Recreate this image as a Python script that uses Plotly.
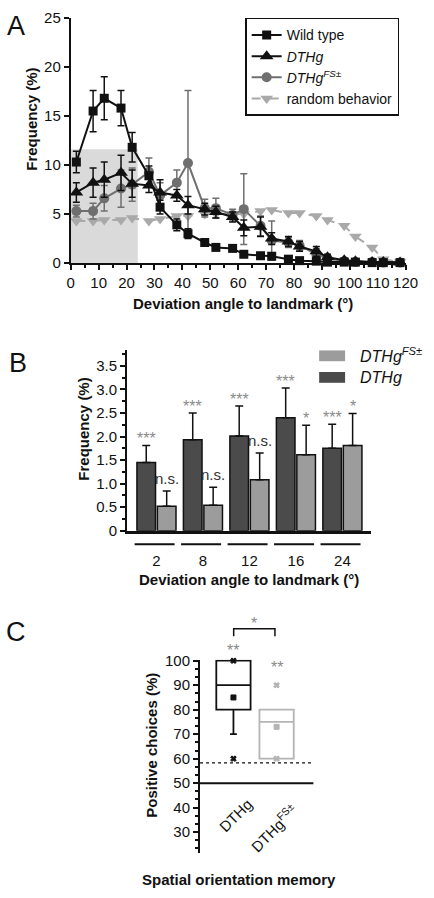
import plotly.graph_objects as go

W, H = 434, 898
FONT = "Liberation Sans, Arial, sans-serif"


def px(x):
    return x / W


def py(y):
    return 1 - y / H


# ---------------- Panel A data ----------------
angles = [2, 8, 12, 18, 22, 28, 32, 38, 42, 48, 52, 58, 62, 68, 72, 78, 82, 88, 92, 98, 102, 108, 112, 118]
wt = [10.3, 15.5, 16.8, 15.8, 11.8, 8.9, 5.7, 3.9, 3.0, 2.1, 1.6, 1.5, 0.9, 0.75, 0.7, 0.4, 0.25, 0.2, 0.1, 0.1, 0.1, 0.05, 0.05, 0.05]
wt_err = [1.1, 2.1, 2.2, 1.8, 1.5, 1.0, 0.7, 0.6, 0.5, 0.3, 0.3, 0.25, 0.2, 0.2, 0.15, 0.15, 0.1, 0.1, 0.1, 0.05, 0.05, 0.05, 0.05, 0.05]
dthg = [7.2, 8.2, 8.5, 9.2, 8.1, 7.9, 7.2, 6.9, 5.9, 5.5, 5.2, 4.7, 3.6, 3.7, 2.5, 2.2, 1.7, 1.2, 0.6, 0.3, 0.2, 0.1, 0.1, 0.05]
dthg_err = [1.0, 1.5, 1.8, 1.8, 1.4, 0.7, 1.3, 0.6, 0.9, 0.6, 0.6, 0.5, 0.8, 1.0, 0.6, 0.5, 0.5, 0.5, 0.3, 0.2, 0.1, 0.1, 0.1, 0.05]
fs = [5.3, 5.3, 6.6, 7.6, 8.0, 9.3, 6.9, 8.2, 10.2, 5.6, 5.6, 4.9, 5.5, 3.8, 2.3, 2.1, 1.8, 0.9, 0.5, 0.2, 0.1, 0.1, 0.05, 0.05]
fs_err = [0.6, 0.8, 1.3, 1.9, 1.7, 1.4, 1.3, 1.3, 7.4, 0.9, 1.0, 0.6, 3.6, 1.0, 2.0, 0.5, 0.5, 0.6, 0.3, 0.2, 0.1, 0.1, 0.05, 0.05]
rnd = [4.3, 4.3, 4.4, 4.4, 4.6, 4.3, 4.5, 4.8, 4.8, 5.0, 5.0, 5.0, 5.0, 5.3, 5.4, 5.1, 5.1, 4.8, 4.4, 3.8, 2.7, 1.6, 0.4, 0.1]
highlight_x = [0, 24]
highlight_top = 11.6
a_xticks = list(range(0, 121, 10))
a_yticks = [0, 5, 10, 15, 20, 25]

# ---------------- Panel B data ----------------
b_groups = ["2", "8", "12", "16", "24"]
b_dthg = [1.45, 1.93, 2.01, 2.40, 1.75]
b_dthg_err = [0.36, 0.57, 0.64, 0.63, 0.51]
b_fs = [0.52, 0.54, 1.08, 1.61, 1.81]
b_fs_err = [0.32, 0.38, 0.57, 0.63, 0.68]
b_sig_dthg = ["***", "***", "***", "***", "***"]
b_sig_fs = ["n.s.", "n.s.", "n.s.", "*", "*"]
b_yticks = [0, 0.5, 1.0, 1.5, 2.0, 2.5, 3.0, 3.5]
b_yticktext = ["0", "0.5", "1.0", "1.5", "2.0", "2.5", "3.0", "3.5"]

# ---------------- Panel C data ----------------
c_groups = ["DTHg", "DTHg<sup>FS±</sup>"]
c_q1 = [80, 60]
c_median = [90, 75]
c_q3 = [100, 80]
c_low = [70, 60]
c_high = [100, 80]
c_points = [[100, 85, 60], [90, 73, 60]]
c_point_symbols = ["x", "square", "x"]
c_sig = ["**", "**"]
c_chance = 58.3
c_baseline = 50
c_yticks = [30, 40, 50, 60, 70, 80, 90, 100]

BLACK = "#111111"
DARKGRAY = "#6f6f6f"
LIGHTGRAY = "#a9a9a9"
B_DARK = "#4b4b4b"
B_LIGHT = "#9c9c9c"
C_LIGHT = "#b4b4b4"
STAR = "#8a8a8a"
FS = 15
STAR_SIZE = 16

fig = go.Figure()

# ---- Panel A traces ----
fig.add_trace(go.Scatter(
    x=angles, y=rnd, mode="lines+markers", name="random behavior",
    line=dict(color=LIGHTGRAY, width=2, dash="dash"),
    marker=dict(symbol="triangle-down", size=11, color=LIGHTGRAY),
    legendrank=4, cliponaxis=False, xaxis="x", yaxis="y"))
fig.add_trace(go.Scatter(
    x=angles, y=fs, mode="lines+markers", name="<i>DTHg<sup>FS±</sup></i>",
    line=dict(color=DARKGRAY, width=2),
    marker=dict(symbol="circle", size=10, color=DARKGRAY),
    error_y=dict(type="data", array=fs_err, color=DARKGRAY, thickness=1.5, width=3.5),
    legendrank=3, cliponaxis=False, xaxis="x", yaxis="y"))
fig.add_trace(go.Scatter(
    x=angles, y=dthg, mode="lines+markers", name="<i>DTHg</i>",
    line=dict(color=BLACK, width=2),
    marker=dict(symbol="triangle-up", size=12, color=BLACK),
    error_y=dict(type="data", array=dthg_err, color=BLACK, thickness=1.5, width=3.5),
    legendrank=2, cliponaxis=False, xaxis="x", yaxis="y"))
fig.add_trace(go.Scatter(
    x=angles, y=wt, mode="lines+markers", name="Wild type",
    line=dict(color=BLACK, width=2),
    marker=dict(symbol="square", size=9, color=BLACK),
    error_y=dict(type="data", array=wt_err, color=BLACK, thickness=1.5, width=3.5),
    legendrank=1, cliponaxis=False, xaxis="x", yaxis="y"))

# ---- Panel B traces ----
bx = list(range(len(b_groups)))
fig.add_trace(go.Bar(
    x=bx, y=b_dthg, name="DTHg", marker=dict(color=B_DARK, line=dict(color=BLACK, width=1.5)),
    error_y=dict(type="data", array=b_dthg_err, arrayminus=[0] * 5, symmetric=False,
                 color=BLACK, thickness=1.5, width=4),
    showlegend=False, xaxis="x2", yaxis="y2"))
fig.add_trace(go.Bar(
    x=bx, y=b_fs, name="DTHg FS", marker=dict(color=B_LIGHT, line=dict(color=BLACK, width=1.5)),
    error_y=dict(type="data", array=b_fs_err, arrayminus=[0] * 5, symmetric=False,
                 color=BLACK, thickness=1.5, width=4),
    showlegend=False, xaxis="x2", yaxis="y2"))

# ---- Panel C traces ----
c_colors = [BLACK, C_LIGHT]
for i in range(2):
    fig.add_trace(go.Box(
        x=[i], q1=[c_q1[i]], median=[c_median[i]], q3=[c_q3[i]],
        lowerfence=[c_low[i]], upperfence=[c_high[i]],
        width=0.795, whiskerwidth=0.2, boxpoints=False,
        line=dict(color=c_colors[i], width=1.8), fillcolor="rgba(0,0,0,0)",
        showlegend=False, xaxis="x3", yaxis="y3"))
    fig.add_trace(go.Scatter(
        x=[i] * len(c_points[i]), y=c_points[i], mode="markers",
        marker=dict(symbol=c_point_symbols, size=5, color=c_colors[i],
                    line=dict(color=c_colors[i], width=1)),
        showlegend=False, cliponaxis=False, xaxis="x3", yaxis="y3"))

axis_common = dict(showline=True, linecolor=BLACK, linewidth=2, ticks="outside",
                   tickcolor=BLACK, tickwidth=1.5, ticklen=5, showgrid=False, zeroline=False,
                   tickfont=dict(family=FONT, size=FS, color=BLACK))

shapes = [
    dict(type="rect", xref="x", yref="y", x0=highlight_x[0], x1=highlight_x[1], y0=0,
         y1=highlight_top, fillcolor="#dadada", line=dict(width=0), layer="below"),
    # panel C reference lines
    dict(type="line", xref="x3 domain", yref="y3", x0=0, x1=1, y0=c_baseline, y1=c_baseline,
         line=dict(color=BLACK, width=2)),
    dict(type="line", xref="x3 domain", yref="y3", x0=0, x1=0.985, y0=c_chance, y1=c_chance,
         line=dict(color=BLACK, width=1.3, dash="dot")),
    # significance bracket
    dict(type="path", xref="x3 domain", yref="y3 domain",
         path="M 0.297 1.122 L 0.297 1.161 L 0.661 1.161 L 0.661 1.122",
         line=dict(color=BLACK, width=1.5)),
    # panel B legend swatches
    dict(type="rect", xref="paper", yref="paper", x0=px(328), x1=px(355), y0=py(359), y1=py(348),
         fillcolor=B_LIGHT, line=dict(width=0)),
    dict(type="rect", xref="paper", yref="paper", x0=px(328), x1=px(355), y0=py(381), y1=py(370),
         fillcolor=B_DARK, line=dict(width=0)),
]
# panel B group underlines
for i in bx:
    shapes.append(dict(type="line", xref="x2", yref="paper", x0=i - 0.47, x1=i + 0.39,
                       y0=py(545.7), y1=py(545.7), line=dict(color=BLACK, width=2)))

ann = []


def text(x, y, t, size=FS, bold=False, angle=0, color=BLACK, italic=False, xanchor="center", **kw):
    s = t
    if bold:
        s = "<b>" + s + "</b>"
    if italic:
        s = "<i>" + s + "</i>"
    d = dict(x=x, y=y, text=s, showarrow=False, textangle=angle, xanchor=xanchor, yanchor="middle",
             font=dict(family=FONT, size=size, color=color))
    d.setdefault("xref", "paper")
    d.setdefault("yref", "paper")
    d.update(kw)
    ann.append(d)


# panel letters
text(px(13), py(17), "A", size=27)
text(px(15), py(361), "B", size=27)
text(px(13), py(635), "C", size=27)

# axis titles
text(px(29), py(112), "Frequency (%)", bold=True, angle=-90)
text(px(249), py(300), "Deviation angle to landmark (°)", bold=True)
text(px(83), py(428), "Frequency (%)", bold=True, angle=-90)
text(px(255), py(581), "Deviation angle to landmark (°)", bold=True)
text(px(154), py(750), "Positive choices (%)", bold=True, angle=-90)
text(px(245), py(887), "Spatial orientation memory", bold=True)

# panel B legend text
text(px(368), py(353), "DTHg<sup>FS±</sup>", size=16, italic=True, xanchor="left")
text(px(368), py(376), "DTHg", size=16, italic=True, xanchor="left")

# panel B significance
for i in bx:
    for off, vals, errs, sig in ((-0.22, b_dthg, b_dthg_err, b_sig_dthg),
                                 (0.22, b_fs, b_fs_err, b_sig_fs)):
        ns = sig[i] == "n.s."
        ann.append(dict(x=i + off, y=vals[i] + errs[i], xref="x2", yref="y2", text=sig[i],
                        showarrow=False, xanchor="center", yanchor="bottom",
                        yshift=2 if ns else -4,
                        font=dict(family=FONT, size=FS if ns else STAR_SIZE,
                                  color="#333333" if ns else STAR)))

# panel C significance
ann.append(dict(x=0, y=c_q3[0], xref="x3", yref="y3", text=c_sig[0], showarrow=False,
                yanchor="bottom", yshift=0, font=dict(family=FONT, size=STAR_SIZE, color=STAR)))
ann.append(dict(x=1, y=max(c_points[1]), xref="x3", yref="y3", text=c_sig[1], showarrow=False,
                yanchor="bottom", yshift=7, font=dict(family=FONT, size=STAR_SIZE, color=STAR)))
ann.append(dict(x=0.479, y=1.161, xref="x3 domain", yref="y3 domain", text="*", showarrow=False,
                yanchor="bottom", yshift=-5, font=dict(family=FONT, size=STAR_SIZE, color=STAR)))
# panel C category labels (rotated)
ann.append(dict(x=0, y=py(822), xref="x3", yref="paper", text=c_groups[0], showarrow=False,
                textangle=-45, xanchor="center", yanchor="middle", xshift=2,
                font=dict(family=FONT, size=FS, color=BLACK)))
ann.append(dict(x=1, y=py(834), xref="x3", yref="paper", text=c_groups[1], showarrow=False,
                textangle=-45, xanchor="center", yanchor="middle", xshift=-3,
                font=dict(family=FONT, size=FS, color=BLACK)))

fig.update_layout(
    width=W, height=H, margin=dict(l=0, r=0, t=0, b=0),
    paper_bgcolor="white", plot_bgcolor="rgba(0,0,0,0)",
    font=dict(family=FONT, size=FS, color=BLACK),
    barmode="group", bargap=0.12, bargroupgap=0.09,
    showlegend=True,
    legend=dict(x=px(251), y=py(9), xanchor="left", yanchor="top",
                bordercolor=BLACK, borderwidth=1.5, bgcolor="white",
                font=dict(family=FONT, size=14, color=BLACK),
                tracegroupgap=0, itemwidth=30),
    xaxis=dict(domain=[px(69.5), px(418)], range=[0, 120], anchor="y",
               tickvals=a_xticks, minor=dict(dtick=5, ticklen=3, tickwidth=1.5, ticks="outside",
                                             tickcolor=BLACK),
               **axis_common),
    yaxis=dict(domain=[py(259), py(9)], range=[0, 25], anchor="x", tickvals=a_yticks,
               **axis_common),
    xaxis2=dict(domain=[px(128), px(382)], range=[-0.634, 4.616], anchor="y2",
                showline=True, linecolor=BLACK, linewidth=2.5, ticks="", showgrid=False,
                zeroline=False, tickvals=bx, ticktext=b_groups, ticklabelstandoff=15,
                tickfont=dict(family=FONT, size=FS, color=BLACK)),
    yaxis2=dict(domain=[py(531.7), py(348)], range=[0, 3.83], anchor="x2",
                tickvals=b_yticks, ticktext=b_yticktext,
                minor=dict(dtick=0.25, ticklen=3, tickwidth=1.5, ticks="outside", tickcolor=BLACK),
                **axis_common),
    xaxis3=dict(domain=[px(204), px(322)], range=[-0.775, 1.853], anchor="y3",
                visible=False),
    yaxis3=dict(domain=[py(860), py(663.3)], range=[21.6, 100.4], anchor="x3",
                tickvals=c_yticks,
                minor=dict(dtick=10 / 3, tick0=0, ticklen=3, tickwidth=1.5, ticks="outside",
                           tickcolor=BLACK),
                **axis_common),
    shapes=shapes,
    annotations=ann,
)

fig.write_html("out.html", config={"displayModeBar": False},
               post_script="document.body.style.margin='0';")
